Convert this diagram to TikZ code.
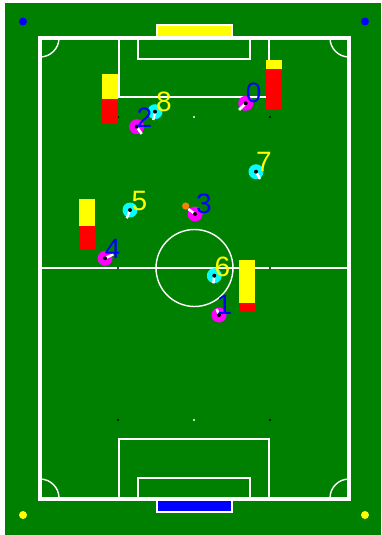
\documentclass[tikz,border=0pt]{standalone}
\usepackage{fontspec}
\setmainfont{Liberation Sans}
\definecolor{pitch}{RGB}{0,128,0}
\definecolor{magen}{RGB}{255,0,255}
\definecolor{cyanr}{RGB}{0,255,255}
\definecolor{blu}{RGB}{0,0,255}
\definecolor{yel}{RGB}{255,255,0}
\definecolor{redb}{RGB}{255,0,0}
\definecolor{ballc}{RGB}{255,128,0}
\tikzset{
  thickline/.style={draw=white,line width=4pt},
  thinline/.style={draw=white,line width=1.4pt},
  bluelab/.style={text=blu,font=\fontsize{28}{28}\selectfont,inner sep=0pt},
  yellab/.style={text=yel,font=\fontsize{28}{28}\selectfont,inner sep=0pt},
  heading/.style={draw=white,line width=2.5pt},
}
\newcommand{\robot}[5]{% color, x, y, hx, hy
  \fill[#1] (#2,#3) circle (7.5);
  \draw[heading] (#2,#3) -- (#4,#5);
  \fill[black] (#2,#3) circle (2);
}
\begin{document}
\begin{tikzpicture}[x=1pt,y=-1pt]
\useasboundingbox (0,0) rectangle (381,535);
\fill[white] (0,0) rectangle (381,535);
\fill[pitch] (5,3) rectangle (381,535);
% goals
\draw[white,line width=2pt,fill=yel] (157,25) rectangle (232,38);
\draw[white,line width=2pt,fill=blu] (157,499) rectangle (232,512);
% inner lines
\draw[thinline] (119,38) rectangle (269,97);
\draw[thinline] (138,38) rectangle (250,59);
\draw[thinline] (119,498) rectangle (269,439);
\draw[thinline] (138,498) rectangle (250,478);
\draw[white,line width=2pt] (40,268) -- (349,268);
\draw[thinline] (194.5,268) circle (38.5);
% corner arcs
\draw[thinline] (59,38) arc[start angle=0,end angle=90,radius=19];
\draw[thinline] (330,38) arc[start angle=180,end angle=90,radius=19];
\draw[thinline] (59,498) arc[start angle=0,end angle=-90,radius=19];
\draw[thinline] (330,498) arc[start angle=180,end angle=270,radius=19];
% outer boundary
\draw[thickline] (40,38) rectangle (349,498.5);
% marks
\fill[black] (118,117) circle (1.2);
\fill[white] (194,117) circle (1.2);
\fill[black] (270,117) circle (1.2);
\fill[black] (118,420) circle (1.2);
\fill[white] (194,420) circle (1.2);
\fill[black] (270,420) circle (1.2);
\fill[black] (118,268) circle (1.2);
\fill[black] (270,268) circle (1.2);
% corner dots
\fill[blu] (23,21.5) circle (4);
\fill[blu] (365,21.5) circle (4);
\fill[yel] (23,515) circle (4);
\fill[yel] (365,515) circle (4);
% bars
\fill[yel] (102,74) rectangle (118,99);
\fill[redb] (102,99) rectangle (118,124);
\fill[yel] (266,60) rectangle (282,69);
\fill[redb] (266,69) rectangle (282,110);
\fill[yel] (79,199) rectangle (95,226);
\fill[redb] (79,226) rectangle (95,249);
\fill[yel] (239,260) rectangle (255,303);
\fill[redb] (239,303) rectangle (255,311);
% ball
\fill[ballc] (185.7,206) circle (3.6);
% robots
\robot{magen}{136.7}{126.7}{141.7}{134}
\robot{cyanr}{155}{111.7}{153.3}{120}
\robot{magen}{245.7}{103.3}{239}{110}
\robot{cyanr}{256}{171.7}{260}{179}
\robot{cyanr}{130}{210}{126.7}{218.3}
\robot{magen}{195}{214}{188.3}{209}
\robot{magen}{105}{258.3}{113.3}{254.3}
\robot{cyanr}{214.3}{275.7}{213.3}{283.3}
\robot{magen}{219}{315}{216.7}{309}
% labels
\node[bluelab] (l2) at (144.5,117.5) {2};
\node[yellab] (l8) at (164,102) {8};
\node[bluelab] (l0) at (253.7,92.7) {0};
\node[yellab] (l7) at (264,161.7) {7};
\node[yellab] (l5) at (139.5,201) {5};
\node[bluelab] (l3) at (204,204) {3};
\node[bluelab] (l4) at (112.7,249) {4};
\node[yellab] (l6) at (222.5,267) {6};
\node[bluelab] (l1) at (224.5,305) {1};
\end{tikzpicture}
\end{document}
